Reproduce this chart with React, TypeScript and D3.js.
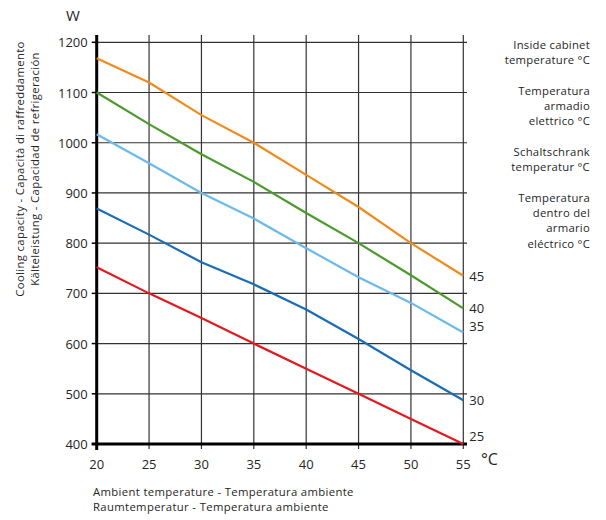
import React from "react";
import * as d3 from "d3";

const temps = [20, 25, 30, 35, 40, 45, 50, 55];
const seriesLabels = ["45", "40", "35", "30", "25"];
const seriesColors = ["#f08a1c", "#4b9a2e", "#6cb9ea", "#1a6db5", "#e3191f"];
const s45 = [1168, 1120, 1055, 1000, 936, 872, 800, 735];
const s40 = [1100, 1037, 977, 922, 860, 800, 736, 670];
const s35 = [1017, 959, 900, 849, 790, 732, 681, 622];
const s30 = [869, 817, 762, 718, 668, 609, 547, 487];
const s25 = [752, 700, 651, 600, 550, 500, 450, 400];
const seriesValues = [s45, s40, s35, s30, s25];
const yTicks = [400, 500, 600, 700, 800, 900, 1000, 1100, 1200];
const xTicks = [20, 25, 30, 35, 40, 45, 50, 55];
const legendLines = [
  "Inside cabinet", "temperature °C", "",
  "Temperatura", "armadio", "elettrico °C", "",
  "Schaltschrank", "temperatur °C", "",
  "Temperatura", "dentro del", "armario", "eléctrico °C",
];

export default function App() {
  const x = d3.scaleLinear().domain([20, 55]).range([96.7, 463.3]);
  const y = d3.scaleLinear().domain([400, 1200]).range([444, 42.3]);
  const line = d3.line<number>().x((_, i) => x(temps[i])).y((v) => y(v));
  const font = "'Open Sans', sans-serif";
  const txt = "#262626";
  const yTop = 35;
  const xRight = 467;
  const legendY: number[] = [];
  let cy = 49;
  legendLines.forEach((l) => { legendY.push(cy); cy += l === "" ? 15.5 : 15.2; });
  return (
    <svg width={606} height={520} style={{ position: "absolute", left: 0, top: 0 }} fontFamily={font}>
      <rect width={606} height={520} fill="#fff" />
      {yTicks.slice(1).map((t) => (
        <line key={"h" + t} x1={x(20)} x2={xRight} y1={y(t)} y2={y(t)} stroke="#333" strokeWidth={1.2} />
      ))}
      {xTicks.slice(1).map((t) => (
        <line key={"v" + t} x1={x(t)} x2={x(t)} y1={yTop} y2={y(400) + 5} stroke="#333" strokeWidth={1.2} />
      ))}
      {yTicks.map((t) => (
        <line key={"yt" + t} x1={x(20) - 5} x2={x(20)} y1={y(t)} y2={y(t)} stroke="#000" strokeWidth={1.5} />
      ))}
      <line x1={x(20)} x2={x(20)} y1={yTop} y2={y(400) + 6} stroke="#000" strokeWidth={3} />
      <line x1={x(20) - 5} x2={xRight} y1={y(400)} y2={y(400)} stroke="#000" strokeWidth={3} />
      {seriesValues.map((vals, i) => (
        <path key={"s" + i} d={line(vals) || ""} fill="none" stroke={seriesColors[i]} strokeWidth={2.2} strokeLinejoin="round" />
      ))}
      {seriesValues.map((vals, i) => (
        <text key={"l" + i} x={x(55) + 6} y={y(vals[vals.length - 1]) + (i === 4 ? -3 : i === 2 ? -2 : 5)} fontSize={13} fill={txt}>
          {seriesLabels[i]}
        </text>
      ))}
      {yTicks.map((t) => (
        <text key={"yl" + t} x={x(20) - 9} y={y(t) + 5} fontSize={13} textAnchor="end" fill={txt}>{t}</text>
      ))}
      {xTicks.map((t) => (
        <text key={"xl" + t} x={x(t)} y={y(400) + 25} fontSize={13} textAnchor="middle" fill={txt}>{t}</text>
      ))}
      <text x={66} y={21} fontSize={15} fill={txt}>W</text>
      <text x={481} y={465} fontSize={16} fill={txt}>°C</text>
      <text transform="translate(24,169) rotate(-90)" fontSize={11.3} letterSpacing={0.35} textAnchor="middle" fill={txt}>
        Cooling capacity - Capacità di raffreddamento
      </text>
      <text transform="translate(39,169) rotate(-90)" fontSize={11.3} letterSpacing={0.35} textAnchor="middle" fill={txt}>
        Kälteleistung - Capacidad de refrigeración
      </text>
      <text x={93} y={496} fontSize={11.3} letterSpacing={0.35} fill={txt}>Ambient temperature - Temperatura ambiente</text>
      <text x={93} y={511} fontSize={11.3} letterSpacing={0.35} fill={txt}>Raumtemperatur - Temperatura ambiente</text>
      {legendLines.map((l, i) => l === "" ? null : (
        <text key={"lg" + i} x={590} y={legendY[i]} fontSize={11.3} letterSpacing={0.25} textAnchor="end" fill={txt}>{l}</text>
      ))}
    </svg>
  );
}
